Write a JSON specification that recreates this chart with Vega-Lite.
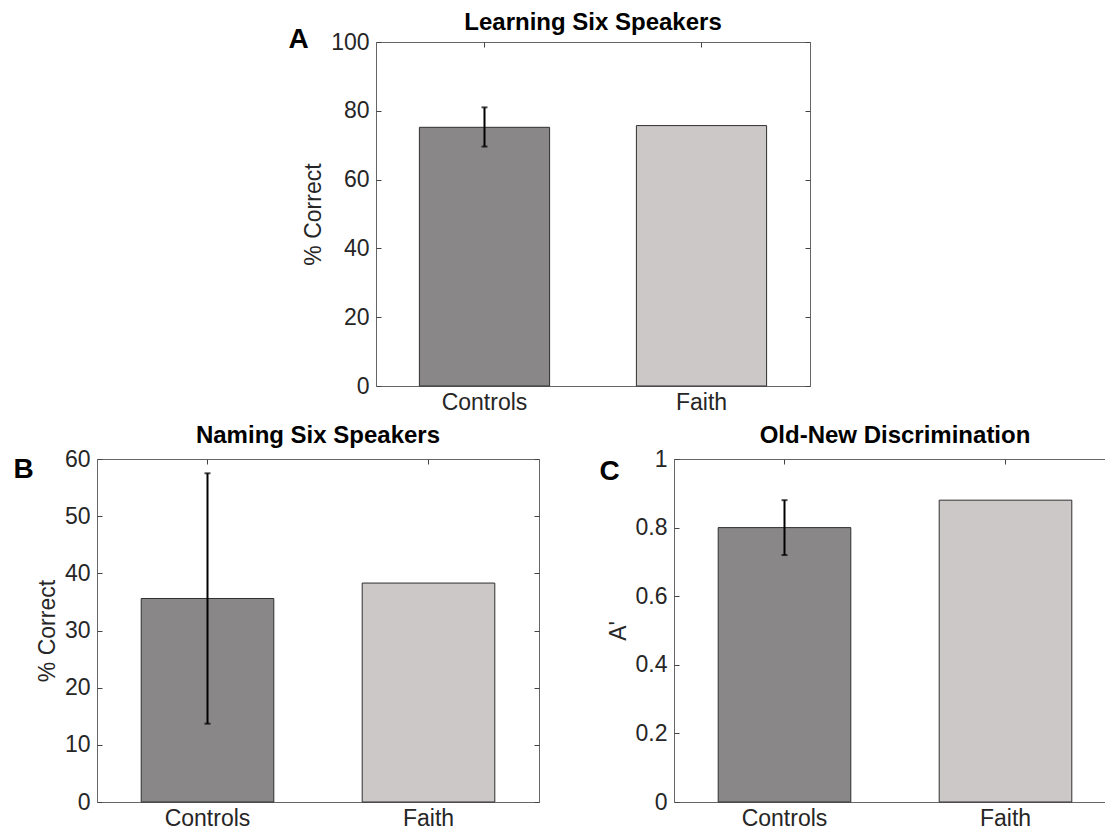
{
  "$schema": "https://vega.github.io/schema/vega-lite/v6.json",
  "background": "white",
  "padding": {"left": 12, "top": 10, "right": 0, "bottom": 0},
  "datasets": {
    "a": [
      {"group": "Controls", "value": 75.2, "lo": 69.6, "hi": 81.0},
      {"group": "Faith", "value": 75.7, "lo": null, "hi": null}
    ],
    "b": [
      {"group": "Controls", "value": 35.6, "lo": 13.7, "hi": 57.5},
      {"group": "Faith", "value": 38.3, "lo": null, "hi": null}
    ],
    "c": [
      {"group": "Controls", "value": 0.80, "lo": 0.72, "hi": 0.88},
      {"group": "Faith", "value": 0.88, "lo": null, "hi": null}
    ]
  },
  "spacing": 8,
  "center": true,
  "vconcat": [
    {
      "width": 434,
      "height": 344,
      "title": {"text": "Learning Six Speakers", "offset": -10},
      "data": {"name": "a"},
      "resolve": {"axis": {"x": "independent", "y": "independent"}},
      "layer": [
        {
          "mark": {"type": "bar", "stroke": "#303030", "strokeWidth": 1},
          "encoding": {
            "x": {"field": "group", "type": "nominal", "sort": null,
                  "scale": {"paddingInner": 0.4, "paddingOuter": 0.2},
                  "axis": {"orient": "bottom", "title": null, "ticks": false, "domain": false, "labelAngle": 0, "labelPadding": 5}},
            "y": {"field": "value", "type": "quantitative", "scale": {"domain": [0, 100]},
                  "axis": {"orient": "left", "title": "% Correct", "values": [0, 20, 40, 60, 80, 100], "tickSize": -5, "labelPadding": 12, "domain": false, "titlePadding": 5}},
            "color": {"field": "group", "type": "nominal", "scale": {"domain": ["Controls", "Faith"], "range": ["#898788", "#cbc8c7"]}, "legend": null}
          }
        },
        {
          "transform": [{"filter": "isValid(datum.lo)"}],
          "mark": {"type": "rule", "color": "black", "strokeWidth": 2},
          "encoding": {
            "x": {"field": "group", "type": "nominal", "sort": null,
                  "axis": {"orient": "top", "title": "A", "labels": false, "domain": false, "tickSize": -5,
                           "titleX": -88, "titleY": 5, "titleAngle": 0, "titleAlign": "left", "titleBaseline": "alphabetic",
                           "titleFontSize": 28, "titleFontWeight": "bold", "titleColor": "black"}},
            "y": {"field": "lo", "type": "quantitative", "scale": {"domain": [0, 100]},
                  "axis": {"orient": "right", "title": " ", "titlePadding": 4, "labels": false, "domain": false, "tickSize": -5, "values": [0, 20, 40, 60, 80, 100]}},
            "y2": {"field": "hi"}
          }
        },
        {
          "transform": [{"filter": "isValid(datum.lo)"}],
          "mark": {"type": "tick", "color": "black", "size": 6, "thickness": 2},
          "encoding": {
            "x": {"field": "group", "type": "nominal", "sort": null, "axis": null},
            "y": {"field": "lo", "type": "quantitative", "scale": {"domain": [0, 100]}, "axis": null}
          }
        },
        {
          "transform": [{"filter": "isValid(datum.hi)"}],
          "mark": {"type": "tick", "color": "black", "size": 6, "thickness": 2},
          "encoding": {
            "x": {"field": "group", "type": "nominal", "sort": null, "axis": null},
            "y": {"field": "hi", "type": "quantitative", "scale": {"domain": [0, 100]}, "axis": null}
          }
        }
      ]
    },
    {
      "spacing": 58,
      "hconcat": [
        {
          "width": 442,
          "height": 343,
          "title": {"text": "Naming Six Speakers", "offset": 0},
          "data": {"name": "b"},
          "resolve": {"axis": {"x": "independent", "y": "independent"}},
          "layer": [
            {
              "mark": {"type": "bar", "stroke": "#303030", "strokeWidth": 1},
              "encoding": {
                "x": {"field": "group", "type": "nominal", "sort": null,
                      "scale": {"paddingInner": 0.4, "paddingOuter": 0.2},
                      "axis": {"orient": "bottom", "title": null, "ticks": false, "domain": false, "labelAngle": 0, "labelPadding": 5}},
                "y": {"field": "value", "type": "quantitative", "scale": {"domain": [0, 60]},
                      "axis": {"orient": "left", "title": "% Correct", "values": [0, 10, 20, 30, 40, 50, 60], "tickSize": -5, "labelPadding": 12, "domain": false, "titlePadding": 5}},
                "color": {"field": "group", "type": "nominal", "scale": {"domain": ["Controls", "Faith"], "range": ["#898788", "#cbc8c7"]}, "legend": null}
              }
            },
            {
              "transform": [{"filter": "isValid(datum.lo)"}],
              "mark": {"type": "rule", "color": "black", "strokeWidth": 2},
              "encoding": {
                "x": {"field": "group", "type": "nominal", "sort": null,
                      "axis": {"orient": "top", "title": "B", "labels": false, "domain": false, "tickSize": -5,
                               "titleX": -84, "titleY": 18, "titleAngle": 0, "titleAlign": "left", "titleBaseline": "alphabetic",
                               "titleFontSize": 28, "titleFontWeight": "bold", "titleColor": "black"}},
                "y": {"field": "lo", "type": "quantitative", "scale": {"domain": [0, 60]},
                      "axis": {"orient": "right", "title": null, "labels": false, "domain": false, "tickSize": -5, "values": [0, 10, 20, 30, 40, 50, 60]}},
                "y2": {"field": "hi"}
              }
            },
            {
              "transform": [{"filter": "isValid(datum.lo)"}],
              "mark": {"type": "tick", "color": "black", "size": 6, "thickness": 2},
              "encoding": {
                "x": {"field": "group", "type": "nominal", "sort": null, "axis": null},
                "y": {"field": "lo", "type": "quantitative", "scale": {"domain": [0, 60]}, "axis": null}
              }
            },
            {
              "transform": [{"filter": "isValid(datum.hi)"}],
              "mark": {"type": "tick", "color": "black", "size": 6, "thickness": 2},
              "encoding": {
                "x": {"field": "group", "type": "nominal", "sort": null, "axis": null},
                "y": {"field": "hi", "type": "quantitative", "scale": {"domain": [0, 60]}, "axis": null}
              }
            }
          ]
        },
        {
          "width": 442,
          "height": 343,
          "title": {"text": "Old-New Discrimination", "offset": 0},
          "data": {"name": "c"},
          "resolve": {"axis": {"x": "independent", "y": "independent"}},
          "layer": [
            {
              "mark": {"type": "bar", "stroke": "#303030", "strokeWidth": 1},
              "encoding": {
                "x": {"field": "group", "type": "nominal", "sort": null,
                      "scale": {"paddingInner": 0.4, "paddingOuter": 0.2},
                      "axis": {"orient": "bottom", "title": null, "ticks": false, "domain": false, "labelAngle": 0, "labelPadding": 5}},
                "y": {"field": "value", "type": "quantitative", "scale": {"domain": [0, 1]},
                      "axis": {"orient": "left", "title": "A'", "format": "~g", "values": [0, 0.2, 0.4, 0.6, 0.8, 1], "tickSize": -5, "labelPadding": 12, "domain": false, "titlePadding": 5}},
                "color": {"field": "group", "type": "nominal", "scale": {"domain": ["Controls", "Faith"], "range": ["#898788", "#cbc8c7"]}, "legend": null}
              }
            },
            {
              "transform": [{"filter": "isValid(datum.lo)"}],
              "mark": {"type": "rule", "color": "black", "strokeWidth": 2},
              "encoding": {
                "x": {"field": "group", "type": "nominal", "sort": null,
                      "axis": {"orient": "top", "title": "C", "labels": false, "domain": false, "tickSize": -5,
                               "titleX": -75, "titleY": 20, "titleAngle": 0, "titleAlign": "left", "titleBaseline": "alphabetic",
                               "titleFontSize": 28, "titleFontWeight": "bold", "titleColor": "black"}},
                "y": {"field": "lo", "type": "quantitative", "scale": {"domain": [0, 1]},
                      "axis": {"orient": "right", "title": null, "labels": false, "domain": false, "tickSize": -5, "values": [0, 0.2, 0.4, 0.6, 0.8, 1]}},
                "y2": {"field": "hi"}
              }
            },
            {
              "transform": [{"filter": "isValid(datum.lo)"}],
              "mark": {"type": "tick", "color": "black", "size": 6, "thickness": 2},
              "encoding": {
                "x": {"field": "group", "type": "nominal", "sort": null, "axis": null},
                "y": {"field": "lo", "type": "quantitative", "scale": {"domain": [0, 1]}, "axis": null}
              }
            },
            {
              "transform": [{"filter": "isValid(datum.hi)"}],
              "mark": {"type": "tick", "color": "black", "size": 6, "thickness": 2},
              "encoding": {
                "x": {"field": "group", "type": "nominal", "sort": null, "axis": null},
                "y": {"field": "hi", "type": "quantitative", "scale": {"domain": [0, 1]}, "axis": null}
              }
            }
          ]
        }
      ]
    }
  ],
  "config": {
    "font": "Liberation Sans",
    "view": {"stroke": "#666666", "strokeWidth": 1},
    "axis": {"labelFont": "Liberation Sans", "labelFontSize": 23, "labelColor": "#262626",
             "titleFont": "Liberation Sans", "titleFontSize": 23, "titleFontWeight": "normal", "titleColor": "#262626",
             "tickColor": "#444444", "grid": false},
    "title": {"font": "Liberation Sans", "fontSize": 24, "fontWeight": "bold", "color": "black"}
  }
}
